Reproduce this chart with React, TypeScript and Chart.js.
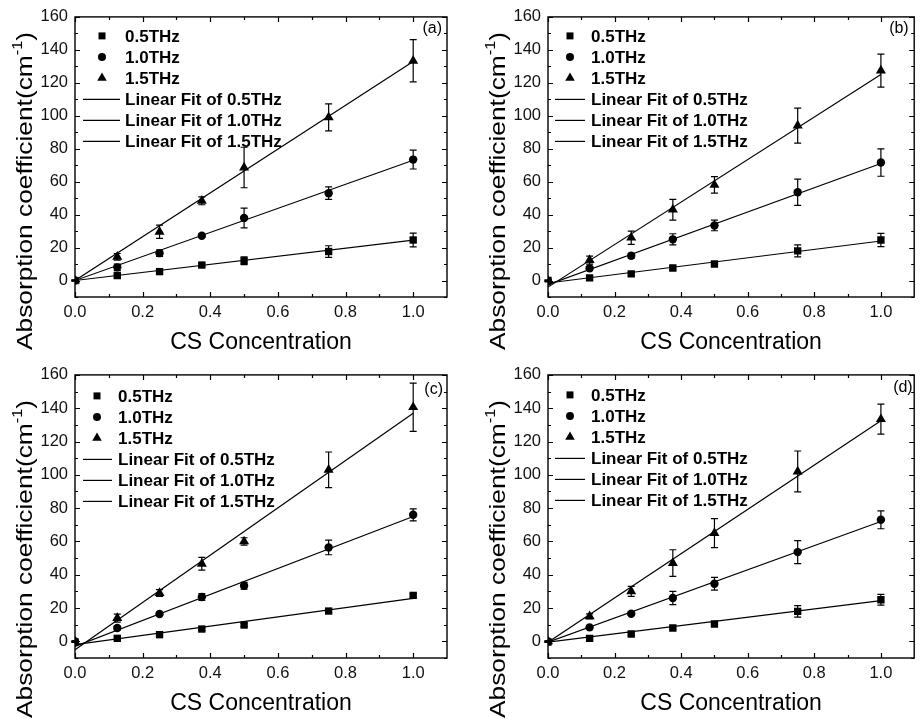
import React, { useEffect, useRef } from 'react';
import { Chart, registerables } from 'chart.js';

Chart.register(...registerables);

// ---------- data ----------
const concentrations = [0, 0.125, 0.25, 0.375, 0.5, 0.75, 1.0];
const fitX = [0, 1.0];
const xTicks = [0, 0.2, 0.4, 0.6, 0.8, 1.0];
const xMinorTicks = [0.1, 0.3, 0.5, 0.7, 0.9];
const yTicks = [0, 20, 40, 60, 80, 100, 120, 140, 160];
const yMinorTicks = [-10, 10, 30, 50, 70, 90, 110, 130, 150];
const seriesNames = ['0.5THz', '1.0THz', '1.5THz'];
const fitNames = ['Linear Fit of 0.5THz', 'Linear Fit of 1.0THz', 'Linear Fit of 1.5THz'];
const xTitle = 'CS Concentration';
const yTitleMain = 'Absorption coefficient(cm';
const yTitleSup = '-1';
const yTitleEnd = ')';

// panel (a)
const a05 = [0, 3, 5.4, 9.4, 12, 17.6, 24.6];
const a05Err = [0.3, 0.8, 0.8, 0.8, 2.4, 3.5, 4.2];
const a10 = [0, 8, 16.6, 27.2, 38, 53, 73.4];
const a10Err = [0.3, 2, 2, 1, 6, 3.8, 5.7];
const a15 = [0, 14.4, 29.6, 48.4, 68.6, 99, 133.4];
const a15Err = [0.3, 2, 4, 2.4, 12.3, 8.2, 12.8];
const aFit05 = [0, 24.5];
const aFit10 = [0, 73];
const aFit15 = [0, 133];

// panel (b)
const b05 = [0, 1.6, 4, 7.6, 10, 18, 24.6];
const b05Err = [0.3, 0.8, 0.8, 1, 1, 3.6, 4];
const b10 = [-0.6, 7.4, 15, 25, 33.4, 53.6, 71.6];
const b10Err = [0.3, 1, 1.5, 3.4, 3.2, 8, 8.3];
const b15 = [0, 12.4, 26, 43, 58, 94, 127.4];
const b15Err = [0.3, 2.4, 4, 6.3, 5, 10.6, 10];
const bFit05 = [-1.5, 24];
const bFit10 = [-2.5, 71];
const bFit15 = [-4, 125];

// panel (c)
const c05 = [-0.4, 1.8, 4, 7.4, 9.8, 18.2, 27.6];
const c05Err = [0.3, 0.8, 0.8, 0.8, 1, 1, 1];
const c10 = [0, 8, 16.4, 26.6, 33.4, 56.4, 76];
const c10Err = [0.3, 1.2, 1, 2, 2, 4.4, 3.6];
const c15 = [0, 14, 29, 46.6, 60, 103, 140.6];
const c15Err = [0.3, 2.4, 2, 3.8, 2.2, 10.7, 14.5];
const cFit05 = [-2, 25.8];
const cFit10 = [-3, 75];
const cFit15 = [-5, 137];

// panel (d)
const d05 = [-0.4, 1.8, 4.4, 8, 10.4, 18, 25];
const d05Err = [0.3, 0.8, 0.8, 0.8, 1, 3.5, 3.2];
const d10 = [0, 8.4, 16.6, 26, 34.6, 53.6, 73];
const d10Err = [0.3, 1, 1, 4, 3.8, 6.9, 5.4];
const d15 = [0, 15, 30, 47, 65, 102, 133.4];
const d15Err = [0.3, 1.5, 3, 8, 8.7, 12.3, 9];
const dFit05 = [-0.5, 24.4];
const dFit10 = [-0.5, 72];
const dFit15 = [-0.5, 132.5];

// ---------- layout ----------
const FONT = '"Liberation Sans", Arial, Helvetica, sans-serif';

type Panel = {
  label: string;
  series: number[][];
  errors: number[][];
  fits: number[][];
  box: { left: number; top: number; width: number; height: number };
  pad: { left: number; right: number; top: number; bottom: number };
  legend: { lineFrom: number; lineTo: number; marker: number; text: number; firstRow: number; rowGap: number };
  tag: { right: number; y: number };
  yTitle: { x: number; y: number };
};

const panels: Panel[] = [
  {
    label: '(a)',
    series: [a05, a10, a15],
    errors: [a05Err, a10Err, a15Err],
    fits: [aFit05, aFit10, aFit15],
    box: { left: 0, top: 0, width: 460, height: 358 },
    pad: { left: 75, right: 13, top: 13, bottom: 61 },
    legend: { lineFrom: 8, lineTo: 45, marker: 27, text: 50, firstRow: 19, rowGap: 21 },
    tag: { right: 5, y: 12 },
    yTitle: { x: 32, y: 191 },
  },
  {
    label: '(b)',
    series: [b05, b10, b15],
    errors: [b05Err, b10Err, b15Err],
    fits: [bFit05, bFit10, bFit15],
    box: { left: 460, top: 0, width: 460, height: 358 },
    pad: { left: 88, right: 2, top: 13, bottom: 61 },
    legend: { lineFrom: 7, lineTo: 37, marker: 22, text: 43, firstRow: 19, rowGap: 21 },
    tag: { right: 5.5, y: 12 },
    yTitle: { x: 45, y: 191 },
  },
  {
    label: '(c)',
    series: [c05, c10, c15],
    errors: [c05Err, c10Err, c15Err],
    fits: [cFit05, cFit10, cFit15],
    box: { left: 0, top: 358, width: 460, height: 361 },
    pad: { left: 75, right: 13, top: 15, bottom: 61 },
    legend: { lineFrom: 8, lineTo: 37, marker: 22, text: 43, firstRow: 21, rowGap: 21 },
    tag: { right: 4, y: 15 },
    yTitle: { x: 32, y: 201 },
  },
  {
    label: '(d)',
    series: [d05, d10, d15],
    errors: [d05Err, d10Err, d15Err],
    fits: [dFit05, dFit10, dFit15],
    box: { left: 460, top: 358, width: 460, height: 361 },
    pad: { left: 88, right: 2, top: 16, bottom: 61 },
    legend: { lineFrom: 7, lineTo: 37, marker: 22, text: 43, firstRow: 20, rowGap: 21 },
    tag: { right: 1.5, y: 13 },
    yTitle: { x: 45, y: 201 },
  },
];

const pointStyles = ['rect', 'circle', 'triangle'];
const pointRadii = [5.2, 4.2, 5.8];

function drawMarker(ctx: CanvasRenderingContext2D, style: string, x: number, y: number, r: number) {
  ctx.beginPath();
  if (style === 'rect') {
    const s = r * Math.SQRT1_2;
    ctx.rect(x - s, y - s, 2 * s, 2 * s);
  } else if (style === 'circle') {
    ctx.arc(x, y, r, 0, Math.PI * 2);
  } else {
    ctx.moveTo(x, y - r);
    ctx.lineTo(x + r * Math.sin((2 * Math.PI) / 3), y - r * Math.cos((2 * Math.PI) / 3));
    ctx.lineTo(x + r * Math.sin((4 * Math.PI) / 3), y - r * Math.cos((4 * Math.PI) / 3));
    ctx.closePath();
  }
  ctx.fill();
}

function PanelChart({ p }: { p: Panel }) {
  const ref = useRef<HTMLCanvasElement>(null);

  useEffect(() => {
    const canvas = ref.current;
    if (!canvas) return;

    const pointSets = p.series.map((vals, i) => ({
      label: seriesNames[i],
      data: concentrations.map((x, j) => ({ x, y: vals[j] })),
      errors: p.errors[i],
      showLine: false,
      pointStyle: pointStyles[i],
      pointRadius: pointRadii[i],
      pointHoverRadius: pointRadii[i],
      backgroundColor: '#000',
      borderColor: '#000',
      pointBorderWidth: 0,
      borderWidth: 0,
    }));
    const fitSets = p.fits.map((f, i) => ({
      label: fitNames[i],
      data: fitX.map((x, j) => ({ x, y: f[j] })),
      showLine: true,
      pointRadius: 0,
      borderColor: '#000',
      backgroundColor: '#000',
      borderWidth: 1.2,
      fill: false,
    }));

    const deco = {
      id: 'deco' + p.label,
      beforeDatasetsDraw(chart: any) {
        const ctx = chart.ctx as CanvasRenderingContext2D;
        const xs = chart.scales.x;
        const ys = chart.scales.y;
        ctx.save();
        ctx.strokeStyle = '#000';
        ctx.lineWidth = 1.2;
        chart.data.datasets.forEach((ds: any) => {
          if (!ds.errors) return;
          ds.data.forEach((pt: any, j: number) => {
            const e = ds.errors[j];
            const px = xs.getPixelForValue(pt.x);
            const y1 = ys.getPixelForValue(pt.y + e);
            const y2 = ys.getPixelForValue(pt.y - e);
            ctx.beginPath();
            ctx.moveTo(px, y1);
            ctx.lineTo(px, y2);
            ctx.moveTo(px - 3.5, y1);
            ctx.lineTo(px + 3.5, y1);
            ctx.moveTo(px - 3.5, y2);
            ctx.lineTo(px + 3.5, y2);
            ctx.stroke();
          });
        });
        ctx.restore();
      },
      afterDraw(chart: any) {
        const ctx = chart.ctx as CanvasRenderingContext2D;
        const { left, right, top, bottom } = chart.chartArea;
        const xs = chart.scales.x;
        const ys = chart.scales.y;
        ctx.save();
        ctx.strokeStyle = '#000';
        ctx.fillStyle = '#000';

        // frame
        ctx.lineWidth = 1.4;
        ctx.strokeRect(left, top, right - left, bottom - top);

        // inward ticks on all four sides
        ctx.lineWidth = 1.2;
        ctx.beginPath();
        const xt = (vals: number[], len: number) => {
          vals.forEach((v) => {
            const px = Math.round(xs.getPixelForValue(v)) + 0.5;
            ctx.moveTo(px, bottom);
            ctx.lineTo(px, bottom - len);
            ctx.moveTo(px, top);
            ctx.lineTo(px, top + len);
          });
        };
        const yt = (vals: number[], len: number) => {
          vals.forEach((v) => {
            const py = Math.round(ys.getPixelForValue(v)) + 0.5;
            ctx.moveTo(left, py);
            ctx.lineTo(left + len, py);
            ctx.moveTo(right, py);
            ctx.lineTo(right - len, py);
          });
        };
        xt(xTicks, 5);
        xt(xMinorTicks, 3);
        yt(yTicks, 5);
        yt(yMinorTicks, 3);
        ctx.stroke();

        // legend
        const lg = p.legend;
        ctx.font = `bold 17px ${FONT}`;
        ctx.textBaseline = 'middle';
        ctx.textAlign = 'left';
        seriesNames.forEach((name, i) => {
          const y = top + lg.firstRow + i * lg.rowGap;
          drawMarker(ctx, pointStyles[i], left + lg.marker, y, pointRadii[i] * 0.95);
          ctx.fillText(name, left + lg.text, y + 1);
        });
        ctx.lineWidth = 1.2;
        fitNames.forEach((name, i) => {
          const y = top + lg.firstRow + (i + 3) * lg.rowGap;
          ctx.beginPath();
          ctx.moveTo(left + lg.lineFrom, y + 0.5);
          ctx.lineTo(left + lg.lineTo, y + 0.5);
          ctx.stroke();
          ctx.fillText(name, left + lg.text, y + 1);
        });

        // panel tag
        ctx.font = `16px ${FONT}`;
        ctx.textAlign = 'right';
        ctx.fillText(p.label, right - p.tag.right, top + p.tag.y);

        // x title
        ctx.font = `23px ${FONT}`;
        ctx.textAlign = 'center';
        ctx.textBaseline = 'middle';
        ctx.fillText(xTitle, (left + right) / 2, bottom + 46);

        // y title with superscript
        ctx.save();
        ctx.translate(p.yTitle.x, p.yTitle.y);
        ctx.rotate(-Math.PI / 2);
        ctx.textBaseline = 'alphabetic';
        ctx.textAlign = 'left';
        const mainFont = `22.5px ${FONT}`;
        const supFont = `14px ${FONT}`;
        ctx.font = mainFont;
        const wMain = ctx.measureText(yTitleMain).width;
        const wEnd = ctx.measureText(yTitleEnd).width;
        ctx.font = supFont;
        const wSup = ctx.measureText(yTitleSup).width;
        const total = wMain + wSup + wEnd;
        const stretch = 318 / total;
        ctx.scale(stretch, 1);
        let cx = -total / 2;
        ctx.font = mainFont;
        ctx.fillText(yTitleMain, cx, 0);
        cx += wMain;
        ctx.font = supFont;
        ctx.fillText(yTitleSup, cx, -10);
        cx += wSup;
        ctx.font = mainFont;
        ctx.fillText(yTitleEnd, cx, 0);
        ctx.restore();

        ctx.restore();
      },
    };

    const chart = new Chart(canvas, {
      type: 'scatter',
      data: { datasets: [...pointSets, ...fitSets] as any },
      options: {
        responsive: false,
        animation: false,
        devicePixelRatio: 1,
        layout: { padding: { left: 0, right: p.pad.right, top: p.pad.top, bottom: 0 } },
        plugins: {
          legend: { display: false },
          tooltip: { enabled: false },
        },
        scales: {
          x: {
            type: 'linear',
            min: 0,
            max: 1.1,
            grid: { display: false, drawTicks: false },
            border: { display: false },
            afterBuildTicks: (scale: any) => {
              scale.ticks = xTicks.map((v) => ({ value: v }));
            },
            afterFit: (scale: any) => {
              scale.height = p.pad.bottom;
            },
            ticks: {
              autoSkip: false,
              maxRotation: 0,
              padding: 6,
              color: '#111',
              font: { family: FONT, size: 16.5 },
              callback: (v: any) => Number(v).toFixed(1),
            },
          },
          y: {
            type: 'linear',
            min: -10,
            max: 160,
            grid: { display: false, drawTicks: false },
            border: { display: false },
            afterBuildTicks: (scale: any) => {
              scale.ticks = yTicks.map((v) => ({ value: v }));
            },
            afterFit: (scale: any) => {
              scale.width = p.pad.left;
            },
            ticks: {
              autoSkip: false,
              padding: 7,
              color: '#111',
              font: { family: FONT, size: 16.5 },
              callback: (v: any) => String(v),
            },
          },
        },
      } as any,
      plugins: [deco],
    });

    return () => chart.destroy();
  }, [p]);

  return (
    <canvas
      ref={ref}
      width={p.box.width}
      height={p.box.height}
      style={{
        position: 'absolute',
        left: p.box.left,
        top: p.box.top,
        width: p.box.width,
        height: p.box.height,
      }}
    />
  );
}

export default function App() {
  return (
    <div
      style={{
        position: 'fixed',
        left: 0,
        top: 0,
        width: 920,
        height: 719,
        background: '#fff',
        overflow: 'hidden',
      }}
    >
      {panels.map((p) => (
        <PanelChart key={p.label} p={p} />
      ))}
    </div>
  );
}
